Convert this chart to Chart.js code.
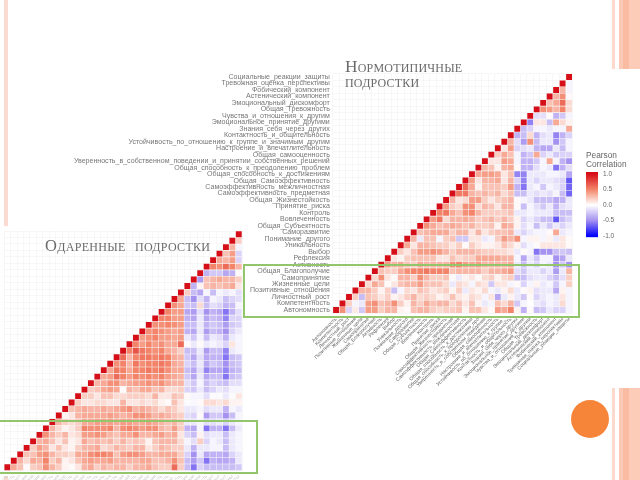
<!DOCTYPE html>
<html><head><meta charset="utf-8">
<script src="https://cdn.jsdelivr.net/npm/chart.js@4"></script>
<style>
html,body{margin:0;padding:0;width:640px;height:480px;overflow:hidden;background:#fff}
canvas{position:absolute;left:0;top:0;filter:blur(.45px)}
.d{position:absolute}
.t{position:absolute;font-family:"Liberation Serif",serif;font-variant:small-caps;color:#6a6a6a;white-space:pre;line-height:1;filter:blur(.3px)}
.l{position:absolute;font-family:"Liberation Sans",sans-serif;color:#666;font-size:8.3px;line-height:1;filter:blur(.25px)}
</style></head><body>
<div class="d" style="left:3.5px;top:0;width:4px;height:226px;background:#fbdbd1"></div>
<div class="d" style="left:3.5px;top:476px;width:4px;height:4px;background:#fbdcd0"></div>
<div class="d" style="left:612px;top:0;width:28px;height:68.5px;background:linear-gradient(90deg,#fbd9cc 0 3px,#fff 3px 7.5px,#fbc9b6 7.5px 11px,#f9bba2 11px 17.5px,#fcccb9 17.5px)"></div>
<div class="d" style="left:612px;top:388px;width:28px;height:92px;background:linear-gradient(90deg,#fbd9cc 0 3px,#fff 3px 7.5px,#fbc9b6 7.5px 11px,#f9bba2 11px 17.5px,#fcccb9 17.5px)"></div>
<div class="d" style="left:571px;top:400px;width:38px;height:38px;border-radius:50%;background:#f6853a"></div>
<canvas id="norm" width="640" height="480"></canvas>
<canvas id="gifted" width="640" height="560"></canvas>
<canvas id="scale" width="640" height="480"></canvas>
<div class="d" style="left:243px;top:264px;width:333px;height:50px;border:2px solid #93c56c"></div>
<div class="d" style="left:-3px;top:420px;width:257px;height:50px;border:2px solid #93c56c"></div>
<div class="t" style="left:345px;top:57.5px;font-size:17.3px;letter-spacing:.2px">Нормотипичные</div>
<div class="t" style="left:345px;top:72.5px;font-size:17.3px;letter-spacing:.2px">подростки</div>
<div class="t" style="left:45px;top:238px;font-size:16.5px;letter-spacing:.3px;word-spacing:5px">Одаренные подростки</div>
<div class="l" style="left:586px;top:151px">Pearson</div>
<div class="l" style="left:586px;top:160px">Correlation</div>
<script>
const variables = [
"Социальные_реакции_защиты","Тревожная_оценка_перспективы","Фобический_компонент","Астенический_компонент",
"Эмоциональный_дискомфорт","Общая_Тревожность","Чувства_и_отношения_к_другим","Эмоциональное_принятие_другими",
"Знания_себя_через_других","Контактность_и_общительность","Устойчивость_по_отношению_к_группе_и_значимым_другим",
"Настроение_и_впечатлительность","Общая_самооценность","Уверенность_в_собственном_поведении_и_принятии_собственных_решений",
"Общая_способность_к_преодолению_проблем","Общая_способность_к_достижениям","Общая_Самоэффективность",
"Самоэффективность_межличностная","Самоэффективность_предметная","Общая_Жизнестойкость","Принятие_риска","Контроль",
"Вовлеченность","Общая_Субъектность","Саморазвитие","Понимание_другого","Уникальность","Выбор","Рефлексия","Активность",
"Общая_Благополучие","Самопринятие","Жизненные_цели","Позитивные_отношения","Личностный_рост","Компетентность","Автономность"];
const columns = variables.slice().reverse();

// Each row starts on the diagonal and runs right; first row is the bottom one.
const normRows = [
[1,.45,-.2,.08,-.25,.4,.4,.2,.3,.3,.05,.02,.25,.3,.3,.2,.15,.2,.2,.25,.05,.25,.25,.1,.02,.4,.35,.5,.05,-.35,.02,-.3,-.25,-.1,-.2,-.2,-.05],
[1,.2,-.05,-.1,.4,.45,.25,.3,.45,.2,.05,.3,.2,.35,.25,.3,.3,.15,.25,.1,.25,.05,-.1,-.05,.25,.15,.3,-.25,-.05,0,-.1,-.15,-.05,-.1,.15,-.05],
[1,.2,-.3,.25,.2,.1,.2,.05,.1,.2,.3,.15,.2,.15,.05,.1,.25,.1,.05,.15,.1,-.05,.1,-.4,-.1,.05,-.1,-.25,.02,-.2,-.1,-.05,-.1,.1,-.05],
[1,.3,.3,.2,.05,.2,-.3,-.05,.15,.1,.25,.2,.1,.15,.2,.05,.2,-.1,.1,.05,.15,-.05,-.1,.05,.15,-.1,.02,.05,-.15,-.1,-.1,-.4,.05,-.05],
[1,.15,.35,.25,.02,.1,.25,.3,.3,.4,.25,.25,.25,.15,-.1,.15,.1,-.05,.15,.1,-.25,.1,.1,-.05,.02,-.2,-.05,.05,-.1,-.05,-.25,-.05,.2],
[1,.15,.45,.1,.02,.3,.3,.2,.45,.3,.2,.2,.25,.02,-.1,.05,.1,.02,.15,.2,.05,.15,.2,-.3,-.3,-.15,-.1,-.1,-.2,-.3,-.15,.2],
[1,.25,.2,.2,.35,.45,.5,.5,.55,.5,.5,.5,.25,.3,.3,.3,.3,.2,.3,.3,.35,.4,-.15,-.25,-.1,-.1,-.2,-.1,-.45,-.1,.3],
[1,.4,.3,.35,.25,.2,.35,.3,.3,.3,.3,.45,.5,.4,.35,.4,.3,.3,.3,.3,.35,-.1,-.3,-.1,-.2,-.05,-.1,-.5,-.25,-.5],
[1,.1,.05,.2,.25,.25,.25,.25,.1,.1,.25,.15,.2,.2,.35,.35,.35,.35,.3,.3,-.05,-.4,-.1,-.25,-.05,-.05,-.5,-.4,-.1],
[1,.2,.1,.25,.4,.4,.45,.4,.3,.2,.3,.3,.3,.25,.2,.2,.15,.15,.1,-.1,.02,-.05,-.6,-.5,-.5,-.3,-.25,-.3],
[1,.35,.1,.3,.3,.25,.2,.2,.1,.2,.02,.2,.1,.05,.05,.1,.25,.15,.05,-.15,-.05,.02,.1,.1,.1,.1,.02],
[1,.3,-.1,.25,.25,-.05,.2,.25,-.25,-.25,.1,.1,-.1,-.05,.2,.4,.3,.45,-.05,.05,.05,-.05,.05,-.1,.1,.02],
[1,.25,.3,.35,.35,.35,.2,.3,.3,.1,.3,.1,.2,.25,.25,.3,-.1,-.2,-.1,-.05,-.05,.02,.35,-.1,-.05],
[1,.45,.35,.25,.3,.35,.3,.25,.3,.2,.2,.25,.05,.35,.3,.05,-.15,-.05,-.3,-.1,-.25,-.1,-.2,-.1],
[1,.4,.55,.15,.3,.3,.35,.3,.2,.25,.3,.2,.3,.2,.05,-.2,-.1,-.2,-.3,-.3,-.7,-.3,-.2],
[1,.5,.55,.35,.25,.45,.5,.3,.2,.2,.2,.2,.25,-.1,-.1,-.05,-.1,-.1,-.1,-.3,-.3,-.3],
[1,.4,.2,.15,.45,.45,.15,.3,.25,.1,.3,.3,.02,-.3,-.05,-.15,-.25,-.1,-.35,-.15,-.1],
[1,.3,.1,.15,.4,.4,.2,.1,.2,.25,.3,.02,-.05,-.1,-.3,-.3,-.3,-.4,-.35,-.1],
[1,.55,.55,.3,.25,.3,.25,.3,.15,.25,-.3,-.3,-.1,-.15,-.1,-.15,-.05,-.3,-.65],
[1,.6,.35,.05,.25,.25,.25,.2,.4,-.35,-.6,-.1,-.05,-.25,-.05,-.1,-.2,-.65],
[1,.4,.1,.3,.3,.35,.1,.3,-.2,-.55,-.1,-.2,-.1,-.1,-.15,-.2,-.7],
[1,.35,.4,.4,.35,.1,.25,-.55,-.55,-.1,-.1,-.1,-.05,-.05,-.1,-.4],
[1,.3,.25,.05,.3,.35,.02,-.35,-.35,-.15,-.05,-.1,-.6,-.35,-.15],
[1,.1,.1,.4,.35,-.05,-.35,-.35,-.25,-.05,.35,-.05,-.35,-.5],
[1,.2,.35,.25,-.05,-.35,-.25,.35,-.2,-.1,-.25,-.2,-.2],
[1,.1,.4,-.2,-.15,-.1,-.35,-.4,-.4,-.1,-.3,-.05],
[1,.3,-.15,-.45,.45,-.3,-.1,-.1,-.5,-.25,-.05],
[1,-.35,-.3,.15,-.35,-.15,-.1,-.55,-.35,-.2],
[1,-.3,-.2,-.05,-.05,-.1,-.05,-.05,.35],
[1,-.55,.1,.1,-.3,.35,.15,.05],
[1,-.15,-.15,.02,-.35,-.25,-.05],
[1,.45,.4,.3,.5,.15],
[1,.25,.35,.6,.15],
[1,.3,.45,.02],
[1,.3,-.05],
[1,-.05],
[1]];

const giftedRows = [
[1,.35,.25,.02,.2,.25,.45,.3,.2,.05,.02,.1,.3,.35,.2,.3,.25,.3,.3,.2,.3,.3,.35,.25,.2,.2,.6,.2,-.3,-.6,-.2,-.3,-.3,-.3,-.3,-.3,-.25],
[1,.3,.15,.35,.3,.5,.2,.3,.05,.1,.25,.35,.4,.35,.35,.4,.3,.3,.3,.3,.35,.35,.25,.25,.3,.45,.25,-.3,-.45,-.25,-.6,-.35,-.4,-.4,-.35,-.1],
[1,.25,.25,.4,.45,.3,.2,.2,.15,.35,.35,.45,.5,.5,.45,.25,.4,.45,.45,.4,.3,.3,.35,.35,.35,.2,-.2,-.5,-.1,-.4,-.35,-.35,-.4,-.2,-.1],
[1,.2,.4,.3,.1,.25,.1,.05,.2,.3,.3,.35,.15,.2,.3,.25,.2,.3,.3,.1,.2,.3,.25,.2,.2,-.1,-.35,-.1,-.1,-.05,-.05,-.3,-.1,-.05],
[1,.3,.35,.25,.1,.25,.05,.1,.35,.25,.3,.25,.3,.2,.3,.2,.25,.2,.05,.25,.3,.3,.3,.15,-.05,-.15,.2,-.2,-.05,-.1,-.3,-.1,-.05],
[1,.45,.3,.2,.3,.1,.15,.4,.4,.45,.4,.3,.25,.35,.35,.45,.3,.3,.35,.4,.3,.35,.1,-.2,-.3,.05,-.15,-.1,-.1,-.3,-.1,-.05],
[1,.3,.15,.05,.1,.2,.5,.45,.45,.45,.5,.3,.45,.5,.45,.4,.45,.45,.3,.25,.4,.2,-.35,-.4,-.05,-.6,-.35,-.35,-.6,-.3,-.1],
[1,.3,.2,.15,.2,.35,.35,.4,.4,.4,.35,.4,.4,.35,.35,.4,.35,.3,.25,.3,.2,-.1,-.1,-.05,-.15,-.15,-.1,-.2,-.1,-.05],
[1,.05,.1,.3,.35,.35,.35,.35,.4,.35,.3,.35,.45,.45,.4,.3,.35,.3,.25,.2,-.15,-.2,.02,-.45,-.25,-.25,-.5,-.3,-.05],
[1,.25,.3,.35,.3,.3,.35,.3,.35,.4,.45,.3,.35,.3,.25,.15,.25,.2,.1,-.1,-.1,-.05,-.15,-.1,-.1,-.35,-.05,-.1],
[1,.2,.1,.1,.15,.15,.1,.1,.3,.1,.1,.15,.1,.15,.05,.02,.25,.1,-.02,-.03,.02,.15,.15,.1,.15,.05,.05],
[1,.2,.2,.1,.25,.25,.15,.15,.2,.2,.2,.15,.3,.1,.1,.25,.2,.02,-.05,-.05,-.15,-.02,-.02,-.1,-.02,.1],
[1,.2,.25,.35,.4,.35,.02,.3,.25,.35,.35,.25,.3,.15,.15,.2,-.2,-.25,-.1,-.3,-.2,-.1,-.15,-.05,-.05],
[1,.3,.35,.45,.45,.3,.35,.4,.4,.45,.4,.45,.35,.3,.3,-.15,-.25,-.05,-.3,-.2,-.25,-.3,-.15,-.15],
[1,.35,.4,.6,.5,.4,.5,.45,.5,.45,.5,.4,.35,.3,-.25,-.4,-.1,-.4,-.3,-.3,-.6,-.3,-.25],
[1,.35,.55,.5,.35,.5,.5,.55,.5,.55,.45,.35,.35,-.3,-.4,-.15,-.55,-.4,-.4,-.55,-.35,-.3],
[1,.45,.5,.3,.55,.45,.5,.5,.55,.5,.35,.3,-.2,-.3,-.1,-.4,-.25,-.3,-.5,-.3,-.25],
[1,.6,.3,.5,.55,.55,.5,.55,.5,.35,.3,-.25,-.4,-.15,-.4,-.35,-.35,-.6,-.3,-.25],
[1,.5,.7,.55,.5,.45,.5,.35,.3,.2,-.3,-.3,-.1,-.45,-.3,-.3,-.55,-.1,-.05],
[1,.5,.4,.5,.4,.45,.35,.35,.6,.02,-.1,.02,-.1,-.05,-.1,-.2,.1,-.05],
[1,.4,.45,.5,.4,.4,.35,.4,-.1,-.25,-.05,-.3,-.1,-.15,-.35,-.1,-.05],
[1,.45,.5,.45,.4,.35,.4,-.35,-.4,-.1,-.45,-.3,-.35,-.5,-.2,-.1],
[1,.45,.45,.5,.45,.4,-.3,-.3,-.1,-.35,-.25,-.3,-.45,-.25,-.2],
[1,.5,.5,.4,.4,-.35,-.4,-.1,-.4,-.3,-.35,-.55,-.2,-.2],
[1,.5,.4,.4,-.4,-.45,-.15,-.5,-.35,-.4,-.6,-.35,-.15],
[1,.45,.35,-.25,-.3,.15,-.3,-.15,-.2,-.35,-.3,-.05],
[1,.35,-.3,-.5,-.15,-.35,-.05,-.1,-.3,-.2,-.15],
[1,.2,-.3,-.4,-.05,-.3,-.05,-.1,-.05,-.15],
[1,-.35,.05,.25,.3,.25,.3,.35,.1],
[1,-.45,.25,.3,.35,.3,.3,.2],
[1,-.35,-.25,-.25,-.4,-.35,.02],
[1,.5,.45,.6,.5,.3],
[1,.35,.3,.4,-.2],
[1,.25,.4,-.2],
[1,.3,-.05],
[1,.2],
[1]];

const legendTicks = [1,.5,0,-.5,-1];
const legendRange = [-1.04,1.06];
const rampValues = [-1,-.5,0,.5,1];
const rampColors = [[0,0,255],[165,145,240],[255,255,255],[243,132,105],[214,14,24]];

function colorOf(v){
  let i=0; while(i<rampValues.length-2 && v>rampValues[i+1]) i++;
  const t=Math.max(0,Math.min(1,(v-rampValues[i])/(rampValues[i+1]-rampValues[i])));
  const c=rampColors[i].map((a,k)=>Math.round(a+(rampColors[i+1][k]-a)*t));
  return `rgb(${c[0]},${c[1]},${c[2]})`;
}
function cellsOf(rows){
  const out=[];
  rows.forEach((row,r)=>row.forEach((v,k)=>out.push({x:columns[r+k],y:columns[r],v})));
  return out;
}
const fixedSize=(prop,size)=>s=>{s[prop]=size;s.paddingLeft=s.paddingRight=s.paddingTop=s.paddingBottom=0;};

function heatmap(id,rows,padding,showY,xColor,yWidth,xHeight){
  const cells=cellsOf(rows);
  return new Chart(document.getElementById(id),{
    type:'scatter',
    data:{datasets:[{data:cells,pointStyle:'rect',pointRadius:4.15,pointBorderWidth:0,
      pointBackgroundColor:cells.map(c=>colorOf(c.v))}]},
    options:{responsive:false,animation:false,events:[],layout:{padding},
      plugins:{legend:{display:false},tooltip:{enabled:false}},
      scales:{
        x:{type:'category',labels:columns,offset:true,afterFit:fixedSize('height',xHeight),
          grid:{offset:true,color:'#eeeeee',lineWidth:.5,drawTicks:false},border:{display:false},
          ticks:{autoSkip:false,minRotation:45,maxRotation:45,padding:3,color:xColor,
            font:{family:'Liberation Sans',size:5},
            callback(v){return this.getLabelForValue(v).slice(0,35);}}},
        y:{type:'category',labels:variables,offset:true,afterFit:fixedSize('width',yWidth),
          grid:{offset:true,color:'#eeeeee',lineWidth:.5,drawTicks:false},border:{display:false},
          ticks:{display:showY,autoSkip:false,padding:3,color:'#777',
            font:{family:'Liberation Sans',size:7.05}}}
      }}
  });
}
heatmap('norm',normRows,{left:0,right:67.7,top:73.8,bottom:66.8},true,'#666',332.8,100);
heatmap('gifted',giftedRows,{left:2.5,right:398,top:231,bottom:29.5},false,'#ccc',0,60);

new Chart(document.getElementById('scale'),{
  type:'bar',
  data:{labels:[''],datasets:[{data:[legendRange],barPercentage:1,categoryPercentage:1,
    backgroundColor(ctx){
      const ch=ctx.chart; if(!ch.chartArea) return '#fff';
      const y=ch.scales.y,g=ch.ctx.createLinearGradient(0,y.getPixelForValue(legendRange[1]),0,y.getPixelForValue(legendRange[0]));
      const span=legendRange[1]-legendRange[0];
      g.addColorStop(0,colorOf(1));
      rampValues.slice().reverse().forEach(v=>g.addColorStop((legendRange[1]-v)/span,colorOf(v)));
      g.addColorStop(1,colorOf(-1));
      return g;
    }}]},
  options:{responsive:false,animation:false,events:[],
    layout:{padding:{left:586,right:12,top:172,bottom:242.7}},
    plugins:{legend:{display:false},tooltip:{enabled:false}},
    scales:{
      x:{display:false},
      y:{position:'right',min:legendRange[0],max:legendRange[1],afterFit:fixedSize('width',30),
        afterBuildTicks(s){s.ticks=legendTicks.map(value=>({value}));},
        grid:{display:false,drawTicks:false},border:{display:false},
        ticks:{padding:5,color:'#666',font:{family:'Liberation Sans',size:6.5},callback:v=>v.toFixed(1)}}
    }}
});
</script>
</body></html>
